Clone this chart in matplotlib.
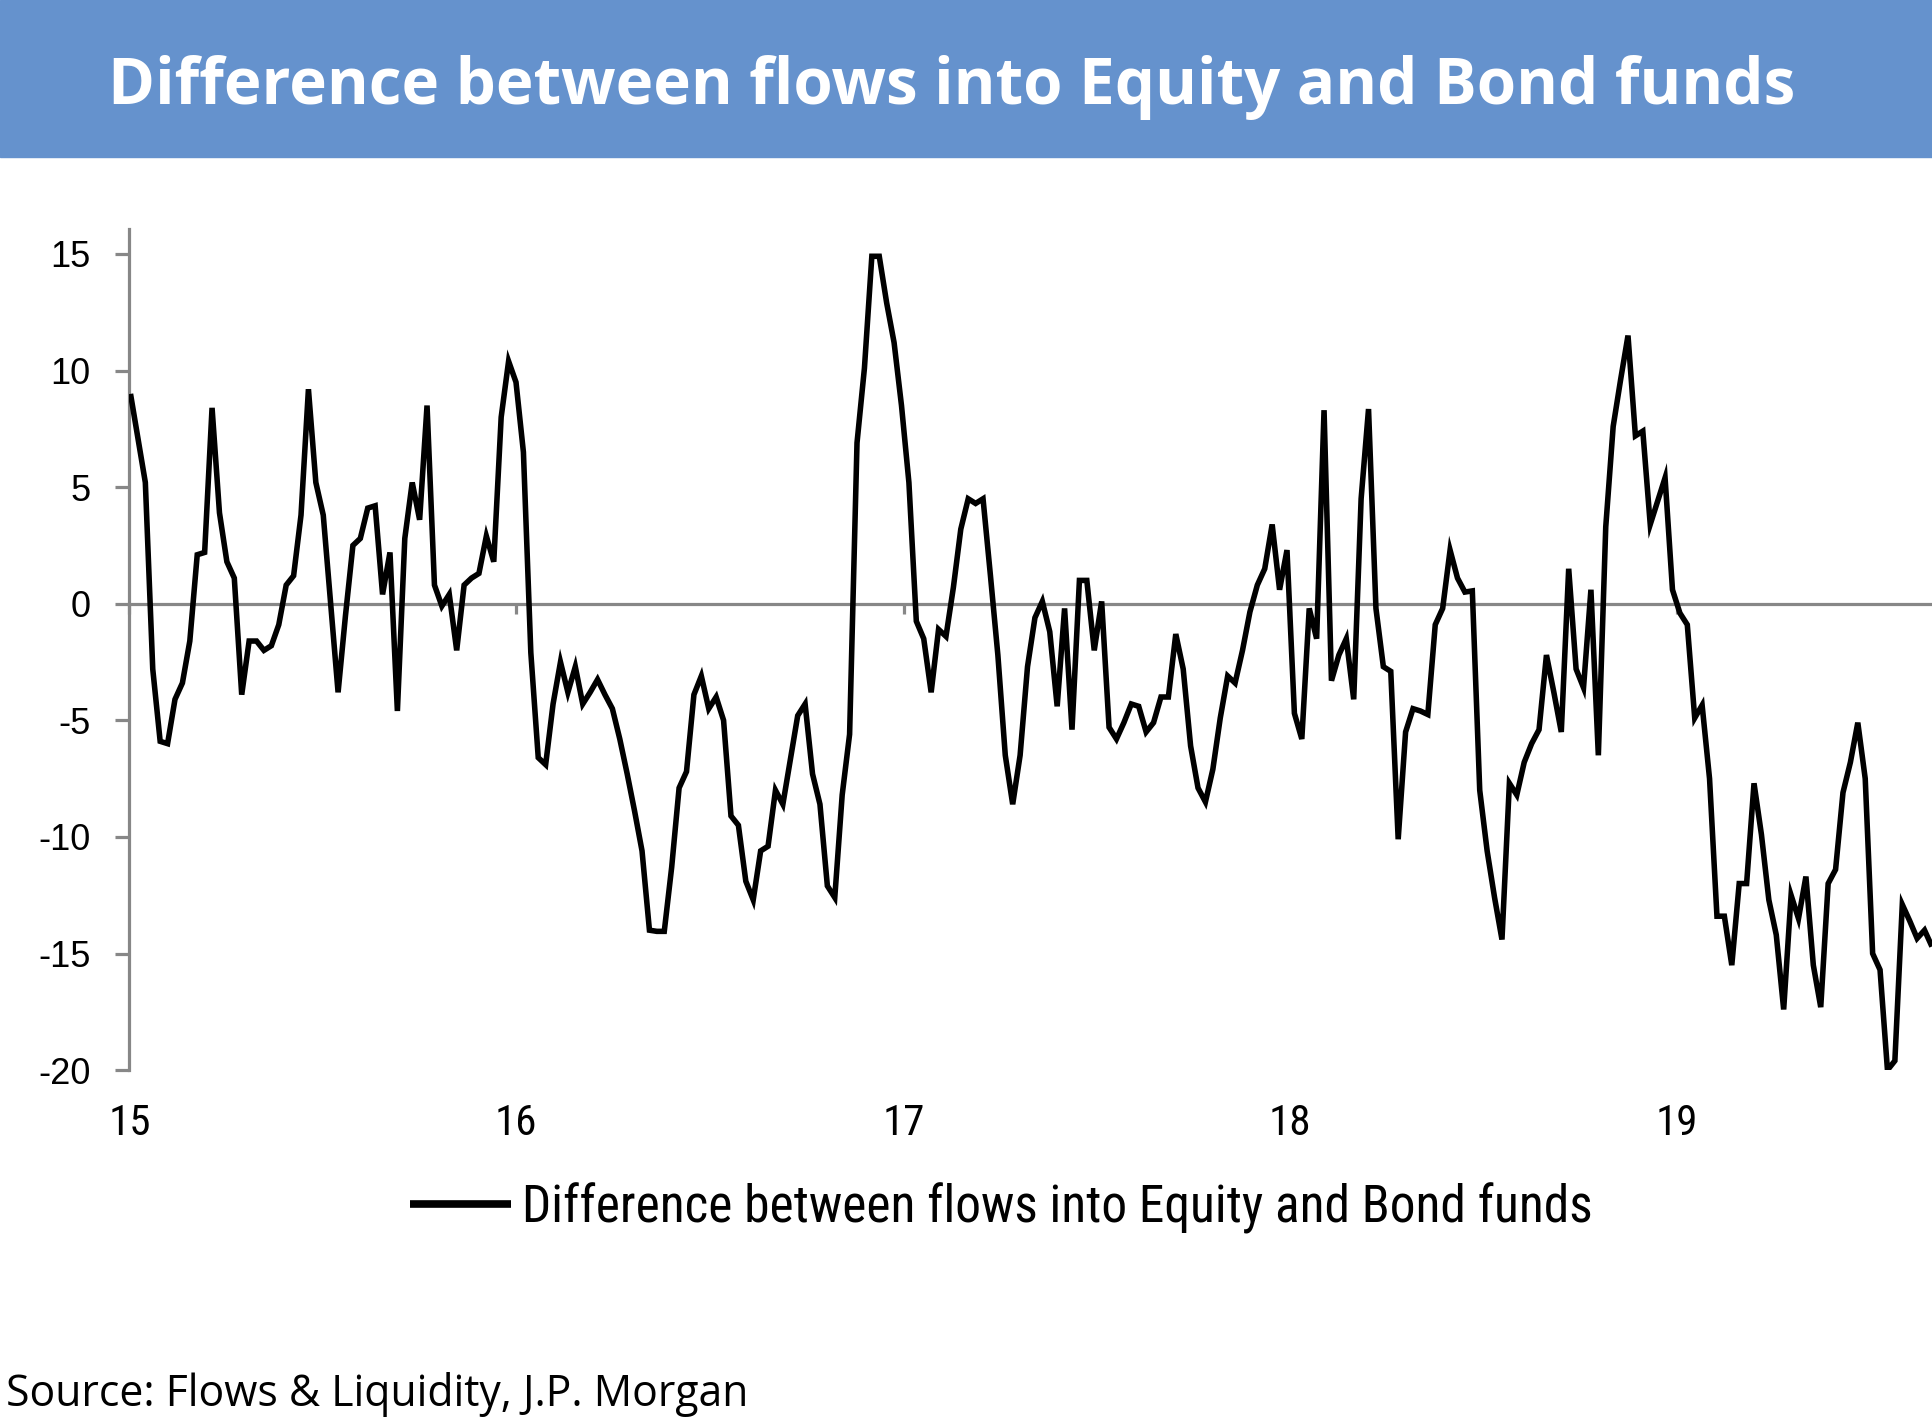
import matplotlib
matplotlib.use('Agg')
import matplotlib.pyplot as plt
import pandas as pd
from matplotlib.patches import Rectangle
from matplotlib.lines import Line2D
from matplotlib import font_manager as fm

# ---------------- data ----------------
start_date = '2015-01-02'
flow_diff = [
    9.0, 7.1, 5.2, -2.8, -5.9, -6.0, -4.1, -3.4, -1.6, 2.1,
    2.2, 8.4, 3.9, 1.8, 1.1, -3.9, -1.6, -1.6, -2.0, -1.8,
    -0.9, 0.8, 1.2, 3.8, 9.2, 5.2, 3.8, 0.0, -3.8, -0.5,
    2.5, 2.8, 4.1, 4.2, 0.4, 2.2, -4.6, 2.8, 5.2, 3.6,
    8.5, 0.8, -0.1, 0.4, -2.0, 0.8, 1.1, 1.3, 2.9, 1.8,
    8.0, 10.4, 9.5, 6.5, -2.1, -6.6, -6.9, -4.3, -2.5, -3.8,
    -2.7, -4.3, -3.8, -3.25, -3.9, -4.5, -5.8, -7.3, -8.9, -10.6,
    -14.0, -14.05, -14.05, -11.3, -7.9, -7.2, -3.9, -3.1, -4.5, -4.0,
    -5.0, -9.1, -9.5, -11.9, -12.7, -10.6, -10.4, -8.0, -8.6, -6.7,
    -4.8, -4.3, -7.3, -8.6, -12.1, -12.6, -8.2, -5.6, 6.9, 10.1,
    14.9, 14.9, 12.9, 11.2, 8.5, 5.2, -0.75, -1.5, -3.8, -1.1,
    -1.4, 0.7, 3.2, 4.5, 4.3, 4.5, 1.2, -2.2, -6.5, -8.6,
    -6.5, -2.7, -0.6, 0.1, -1.2, -4.4, -0.2, -5.4, 1.0, 1.0,
    -2.0, 0.1, -5.3, -5.8, -5.1, -4.3, -4.4, -5.5, -5.1, -4.0,
    -4.0, -1.3, -2.8, -6.1, -7.9, -8.5, -7.1, -4.9, -3.1, -3.4,
    -2.0, -0.35, 0.8, 1.5, 3.4, 0.6, 2.3, -4.7, -5.8, -0.2,
    -1.5, 8.3, -3.3, -2.2, -1.5, -4.1, 4.5, 8.35, -0.2, -2.7,
    -2.9, -10.1, -5.5, -4.5, -4.6, -4.75, -0.9, -0.2, 2.3, 1.1,
    0.5, 0.55, -8.0, -10.6, -12.6, -14.4, -7.7, -8.2, -6.8, -6.0,
    -5.4, -2.2, -3.8, -5.5, 1.5, -2.8, -3.6, 0.6, -6.5, 3.3,
    7.6, 9.6, 11.5, 7.2, 7.4, 3.4, 4.4, 5.4, 0.6, -0.4,
    -0.9, -4.9, -4.35, -7.5, -13.4, -13.4, -15.5, -12.0, -12.0, -7.7,
    -9.9, -12.7, -14.2, -17.4, -12.5, -13.5, -11.7, -15.5, -17.3, -12.0,
    -11.4, -8.1, -6.8, -5.1, -7.5, -15.0, -15.7, -20.0, -19.6, -12.9,
    -13.6, -14.35, -14.0, -14.7,
]
year_ticks = ['2015-01-01', '2016-01-01', '2017-01-01', '2018-01-01', '2019-01-01']
year_labels = ['15', '16', '17', '18', '19']
y_ticks = [15, 10, 5, 0, -5, -10, -15, -20]
y_labels = ['15', '10', '5', '0', '-5', '-10', '-15', '-20']
x_range = ['2015-01-01', '2019-08-31']
y_range = [-20, 16.07]
title_text = 'Difference between flows into Equity and Bond funds'
series_label = 'Difference between flows into Equity and Bond funds'
source_text = 'Source: Flows & Liquidity, J.P. Morgan'

dates = pd.date_range(start_date, periods=len(flow_diff), freq='7D')

# ---------------- style ----------------
W, H = 1933, 1421
GRAY = '#878787'
BANNER = '#6592CD'

installed = {f.name for f in fm.fontManager.ttflist}
narrow_pref = ['Liberation Sans Narrow', 'Arial Narrow', 'Roboto Condensed',
               'Open Sans Condensed', 'Noto Sans Condensed', 'DejaVu Sans Condensed']
NARROW = [f for f in narrow_pref if f in installed] + ['Liberation Sans', 'DejaVu Sans']
ARIAL = ['Liberation Sans', 'DejaVu Sans']
HEAD = ['Open Sans', 'DejaVu Sans']

fig = plt.figure(figsize=(W / 100, H / 100), dpi=100)
fig.patch.set_facecolor('white')


def fitted_size(text, family, weight, target_px, base=40.0, stretch='normal'):
    t = fig.text(0, 0, text, fontsize=base, family=family, weight=weight,
                 stretch=stretch)
    fig.canvas.draw()
    w = t.get_window_extent(renderer=fig.canvas.get_renderer()).width
    t.remove()
    return base * target_px / w


# banner
fig.patches.append(Rectangle((0, 1 - 157 / H), 1, 157 / H,
                             transform=fig.transFigure, color=BANNER, zorder=0))
fs_title = fitted_size(title_text, HEAD, 'bold', 1683)
fig.text(952 / W, 1 - 104 / H, title_text, color='white', fontsize=fs_title,
         family=HEAD, weight='bold', ha='center', va='baseline')

# axes
rect = [129.45 / W, 1 - 1070.1 / H, 1 - 129.45 / W, (1070.1 - 229) / H]
ax2 = fig.add_axes(rect)
ax = fig.add_axes(rect, sharex=ax2)

ax.plot(dates, flow_diff, color='black', lw=4.0, zorder=3,
        solid_joinstyle='miter', solid_capstyle='butt')
ax.set_xlim(pd.to_datetime(x_range[0]), pd.to_datetime(x_range[1]))
ax.set_ylim(*y_range)
ax.patch.set_alpha(0)

for s in ['top', 'right']:
    ax.spines[s].set_visible(False)
ax.spines['left'].set_color(GRAY)
ax.spines['left'].set_linewidth(2.3)
ax.spines['bottom'].set_position(('data', 0))
ax.spines['bottom'].set_color(GRAY)
ax.spines['bottom'].set_linewidth(2.3)

ax.set_xticks(pd.to_datetime(year_ticks))
ax.tick_params(axis='x', direction='out', length=7, width=2.3, color=GRAY,
               labelbottom=False)
ax.set_yticks(y_ticks)
ax.set_yticklabels(y_labels, family=ARIAL, fontsize=26)
ax.tick_params(axis='y', direction='out', length=10, width=2.3, color=GRAY,
               pad=18)

# label axis for the x labels at the bottom
ax2.set_frame_on(False)
ax2.patch.set_alpha(0)
ax2.yaxis.set_visible(False)
ax2.set_xticks(pd.to_datetime(year_ticks))
ax2.set_xticklabels(year_labels, family=NARROW, fontsize=31, stretch='condensed')
ax2.tick_params(axis='x', length=0, pad=24)

# legend
fs_leg = fitted_size(series_label, NARROW, 'normal', 1071, stretch='condensed')
em_px = fs_leg * 100 / 72
handle = Line2D([], [], color='black', lw=5.5, solid_capstyle='butt')
fig.legend(handles=[handle], labels=[series_label], loc='center left',
           bbox_to_anchor=(410 / W, 1 - 1208 / H), frameon=False,
           prop={'family': NARROW, 'size': fs_leg, 'stretch': 'condensed'},
           handlelength=101 / em_px, handletextpad=11 / em_px,
           borderpad=0, borderaxespad=0)

# source
fs_src = fitted_size(source_text, HEAD, 'normal', 742)
fig.text(6 / W, 1 - 1406 / H, source_text, fontsize=fs_src, family=HEAD,
         ha='left', va='baseline', color='black')

fig.savefig('out.png', dpi=100)
